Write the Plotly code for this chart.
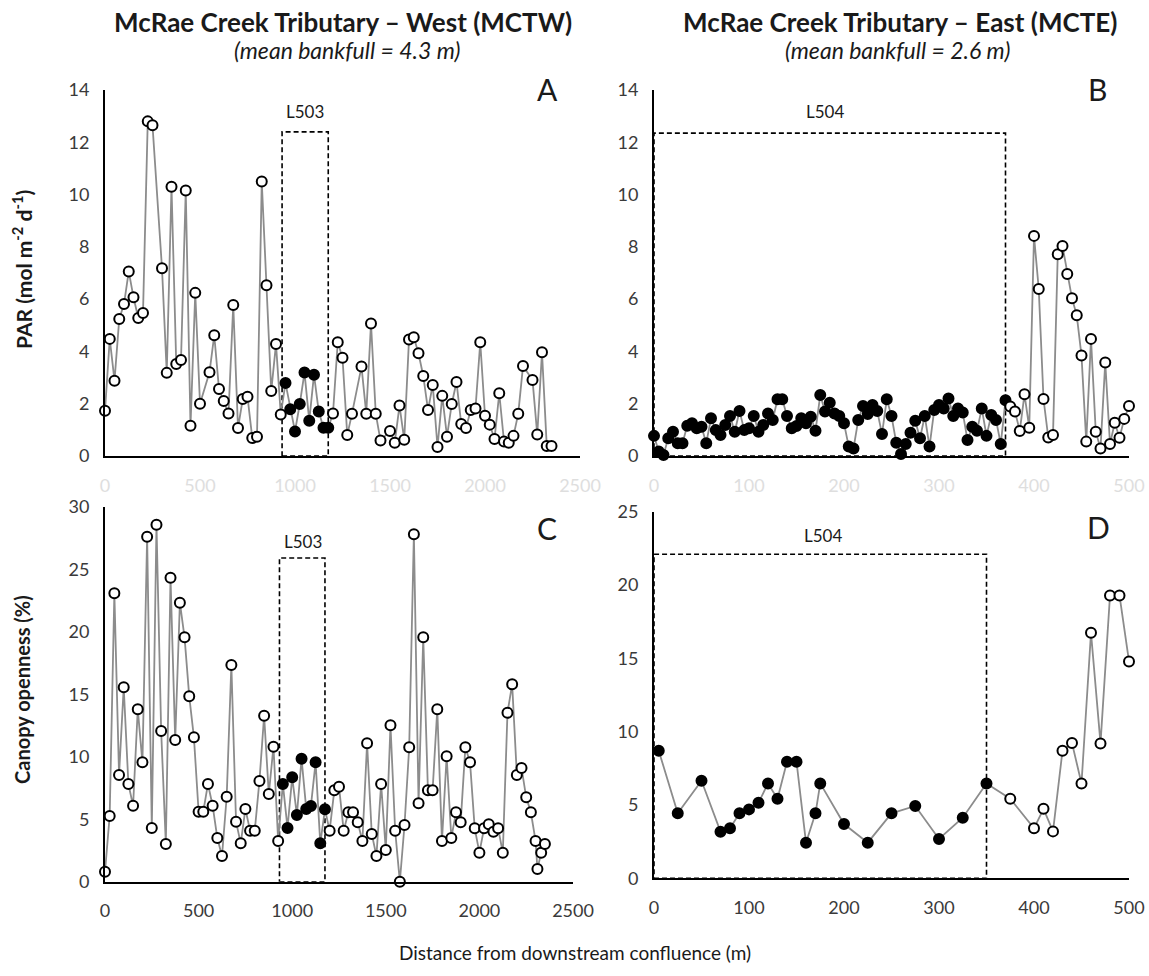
import plotly.graph_objects as go

W, H = 1149, 976
FONT = "Lato"

# ---------------- McRae Creek Tributary - West (MCTW) ----------------
west_par_dist = [0, 25, 50, 75, 100, 125, 150, 175, 200, 225, 250,
                 300, 325, 350, 375, 400, 425, 450, 475, 500,
                 550, 575, 600, 625, 650, 675, 700, 725, 750, 775, 800, 825, 850, 875, 900,
                 925, 950, 975, 1000, 1025, 1050, 1075, 1100, 1125, 1150, 1175, 1200, 1225,
                 1250, 1275, 1300,
                 1350, 1375, 1400, 1425, 1450,
                 1500, 1525, 1550, 1575, 1600, 1625, 1650, 1675, 1700, 1725, 1750, 1775,
                 1800, 1825, 1850, 1875, 1900, 1925, 1950, 1975, 2000, 2025, 2050, 2075,
                 2100, 2125, 2150, 2175, 2200,
                 2250, 2275, 2300, 2325, 2350]
west_par = [1.73, 4.48, 2.88, 5.24, 5.81, 7.06, 6.07, 5.28, 5.47, 12.8, 12.65,
            7.18, 3.18, 10.3, 3.52, 3.67, 10.16, 1.16, 6.24, 2.0,
            3.2, 4.62, 2.56, 2.1, 1.63, 5.78, 1.07, 2.18, 2.27, 0.69, 0.74, 10.5, 6.53, 2.49, 4.28,
            1.59, 2.79, 1.79, 0.94, 1.99, 3.19, 1.35, 3.11, 1.7, 1.08, 1.08, 1.63, 4.35,
            3.76, 0.8, 1.62,
            3.42, 1.62, 5.07, 1.62, 0.59,
            0.96, 0.51, 1.93, 0.62, 4.46, 4.54, 3.93, 3.06, 1.76, 2.72, 0.34, 2.3,
            0.74, 1.99, 2.83, 1.22, 1.07, 1.76, 1.82, 4.35, 1.54, 1.2, 0.65, 2.4,
            0.55, 0.51, 0.77, 1.62, 3.44,
            2.91, 0.82, 3.97, 0.38, 0.38]

west_can_dist = [0, 25, 50, 75, 100, 125, 150, 175, 200, 225,
                 250, 275, 300, 325, 350, 375, 400, 425, 450, 475,
                 500, 525, 550, 575, 600, 625, 650, 675, 700, 725,
                 750, 775, 800, 825, 850, 875, 900, 925, 950, 975,
                 1000, 1025, 1050, 1075, 1100, 1125, 1150, 1175, 1200, 1225,
                 1250, 1275, 1300, 1325, 1350, 1375, 1400, 1425, 1450, 1475,
                 1500, 1525, 1550, 1575, 1600, 1625, 1650, 1675, 1700, 1725,
                 1750, 1775, 1800, 1825, 1850, 1875, 1900, 1925, 1950, 1975,
                 2000, 2025, 2050, 2075, 2100, 2125, 2150, 2175, 2200, 2225,
                 2250, 2275, 2300, 2310, 2330, 2350]
west_can = [0.8, 5.26, 23.07, 8.54, 15.55, 7.82, 6.08, 13.79, 9.55, 27.6,
            4.3, 28.56, 12.06, 3.02, 24.32, 11.34, 22.32, 19.55, 14.83, 11.55,
            5.6, 5.6, 7.82, 6.08, 3.5, 2.06, 6.8, 17.34, 4.8, 3.07,
            5.82, 4.08, 4.08, 8.06, 13.28, 7.02, 10.8, 3.26, 7.82, 4.3,
            8.35, 5.34, 9.84, 5.82, 6.06, 9.55, 3.07, 5.79, 4.08, 7.31,
            7.6, 4.08, 5.55, 5.55, 4.75, 3.26, 11.07, 3.82, 2.06, 7.82,
            2.54, 12.51, 4.08, 0.0, 4.54, 10.75, 27.8, 6.27, 19.55, 7.31,
            7.31, 13.79, 3.26, 10.03, 3.5, 5.55, 4.75, 10.75, 9.55, 4.27,
            2.32, 4.27, 4.59, 4.0, 4.27, 2.32, 13.52, 15.79, 8.54, 9.1,
            6.75, 5.55, 3.26, 1.02, 2.32, 3.02]

# ---------------- McRae Creek Tributary - East (MCTE) ----------------
east_par_dist = [0, 5, 10, 15, 20, 25, 30, 35, 40, 45,
                 50, 55, 60, 65, 70, 75, 80, 85, 90, 95,
                 100, 105, 110, 115, 120, 125, 130, 135, 140, 145,
                 150, 155, 160, 165, 170, 175, 180, 185, 190, 195,
                 200, 205, 210, 215, 220, 225, 230, 235, 240, 245,
                 250, 255, 260, 265, 270, 275, 280, 285, 290, 295,
                 300, 305, 310, 315, 320, 325, 330, 335, 340, 345,
                 350, 355, 360, 365, 370,
                 375, 380, 385, 390, 395, 400, 405, 410, 415, 420,
                 425, 430, 435, 440, 445, 450, 455, 460, 465, 470,
                 475, 480, 485, 490, 495, 500]
east_par = [0.77, 0.17, 0.04, 0.68, 0.93, 0.49, 0.49, 1.16, 1.25, 1.06,
            1.12, 0.49, 1.44, 0.99, 0.8, 1.19, 1.53, 0.93, 1.72, 0.99,
            1.06, 1.53, 0.93, 1.19, 1.63, 1.38, 2.17, 2.17, 1.53, 1.06,
            1.15, 1.44, 1.25, 1.5, 0.97, 2.33, 1.7, 2.04, 1.63, 1.53,
            1.25, 0.36, 0.29, 1.38, 1.91, 1.61, 1.95, 1.72, 0.84, 2.17,
            1.53, 0.51, 0.08, 0.46, 0.89, 1.35, 0.68, 1.53, 0.36, 1.76,
            1.95, 1.82, 2.2, 1.53, 1.82, 1.66, 0.61, 1.12, 0.97, 1.82,
            0.77, 1.57, 1.38, 0.46, 2.13,
            1.89, 1.7, 0.96, 2.36, 1.08, 8.42, 6.39, 2.18, 0.71, 0.8,
            7.72, 8.03, 6.96, 6.03, 5.38, 3.84, 0.55, 4.48, 0.93, 0.29,
            3.58, 0.46, 1.27, 0.7, 1.42, 1.91]

east_can_dist = [5, 25, 50, 70, 80, 90, 100, 110, 120, 130, 140, 150, 160, 170, 175,
                 200, 225, 250, 275, 300, 325, 350,
                 375, 400, 410, 420, 430, 440, 450, 460, 470, 480, 490, 500]
east_can = [8.7, 4.43, 6.65, 3.18, 3.41, 4.43, 4.7, 5.15, 6.47, 5.43, 7.95, 7.95, 2.43, 4.43, 6.47,
            3.7, 2.43, 4.43, 4.93, 2.68, 4.13, 6.47,
            5.43, 3.41, 4.74, 3.2, 8.7, 9.22, 6.47, 16.74, 9.2, 19.29, 19.29, 14.79]

# Reach extents (m) and heights of the dashed reach outlines
L503_reach = (932, 1175)
L504_par_reach = (0, 370)
L504_can_reach = (0, 350)
L503_top_par, L504_top_par = 12.4, 12.35
L503_top_can, L504_top_can = 25.9, 22.1

TICK_DARK = "#3a3a3a"
TICK_GHOST = "#dedede"


def px_x(p):
    return p / W


def px_y(p):
    return 1 - p / H


def series(dist, vals, reach, xa, ya):
    colors = ["black" if reach[0] <= d <= reach[1] else "white" for d in dist]
    return go.Scatter(
        x=dist, y=vals, mode="lines+markers", xaxis=xa, yaxis=ya,
        line=dict(color="#8c8c8c", width=1.8),
        marker=dict(size=10, color=colors, line=dict(color="black", width=2)),
        cliponaxis=False, showlegend=False, hoverinfo="skip")


fig = go.Figure()
fig.add_trace(series(west_par_dist, west_par, L503_reach, "x", "y"))
fig.add_trace(series(east_par_dist, east_par, L504_par_reach, "x2", "y2"))
fig.add_trace(series(west_can_dist, west_can, L503_reach, "x3", "y3"))
fig.add_trace(series(east_can_dist, east_can, L504_can_reach, "x4", "y4"))

axis_common = dict(showline=True, linecolor="black", linewidth=2, ticks="",
                   showgrid=False, zeroline=False, fixedrange=True, automargin=False)


def xaxis(dom, rng, tv, color, anchor):
    return dict(axis_common, domain=[px_x(dom[0]), px_x(dom[1])], range=rng,
                tickvals=tv, anchor=anchor, ticklabelstandoff=12,
                tickfont=dict(family=FONT, size=18, color=color))


def yaxis(dom, rng, dt, anchor):
    return dict(axis_common, domain=[px_y(dom[0]), px_y(dom[1])], range=rng,
                dtick=dt, tick0=0, anchor=anchor, ticklabelstandoff=10,
                tickfont=dict(family=FONT, size=18, color=TICK_DARK))


west_ticks = [0, 500, 1000, 1500, 2000, 2500]
east_ticks = [0, 100, 200, 300, 400, 500]

fig.update_layout(
    width=W, height=H, margin=dict(l=0, r=0, t=0, b=0, autoexpand=False),
    paper_bgcolor="white", plot_bgcolor="white",
    xaxis=xaxis((105, 580), [0, 2500], west_ticks, TICK_GHOST, "y"),
    yaxis=yaxis((456, 90), [0, 14], 2, "x"),
    xaxis2=xaxis((654, 1129), [0, 500], east_ticks, TICK_GHOST, "y2"),
    yaxis2=yaxis((456, 90), [0, 14], 2, "x2"),
    xaxis3=xaxis((105, 573), [0, 2500], west_ticks, TICK_DARK, "y3"),
    yaxis3=yaxis((881.7, 506.7), [0, 30], 5, "x3"),
    xaxis4=xaxis((654, 1129), [0, 500], east_ticks, TICK_DARK, "y4"),
    yaxis4=yaxis((878.3, 511.7), [0, 25], 5, "x4"),
)

# Dashed outlines of the L503 / L504 reaches
dash = dict(color="black", width=1.6, dash="5px,3px")
for xr, yr, (x0, x1), top in [("x", "y", L503_reach, L503_top_par),
                               ("x2", "y2", L504_par_reach, L504_top_par),
                               ("x3", "y3", L503_reach, L503_top_can),
                               ("x4", "y4", L504_can_reach, L504_top_can)]:
    fig.add_shape(type="rect", xref=xr, yref=yr, x0=x0, x1=x1, y0=0, y1=top,
                  line=dash, fillcolor="rgba(0,0,0,0)", layer="below")


def note(text, x, y, size, color="#1a1a1a", **kw):
    fig.add_annotation(text=text, xref="paper", yref="paper", x=px_x(x), y=px_y(y),
                       showarrow=False, xanchor="center", yanchor="middle",
                       font=dict(family=FONT, size=size, color=color), **kw)


# Reach labels
note("L503", 305, 111, 17)
note("L503", 303, 541, 17)
note("L504", 825, 111, 17)
note("L504", 823, 535, 17)

# Panel letters
note("A", 547, 89, 30)
note("B", 1097, 89, 30)
note("C", 547, 528, 30)
note("D", 1098, 527, 30)

# Column headings
note("<b>McRae Creek Tributary – West (MCTW)</b>", 343, 22, 26)
note("<i>(mean bankfull = 4.3 m)</i>", 347, 50, 23)
note("<b>McRae Creek Tributary – East (MCTE)</b>", 900, 22, 26)
note("<i>(mean bankfull = 2.6 m)</i>", 898, 50, 23)

# Axis titles
note("<b>PAR (mol m<sup>-2</sup> d<sup>-1</sup>)</b>", 22, 270, 21, textangle=-90)
note("<b>Canopy openness (%)</b>", 22, 690, 20, textangle=-90)
note("Distance from downstream confluence (m)", 575, 952, 19)

fig.write_html("out.html")
